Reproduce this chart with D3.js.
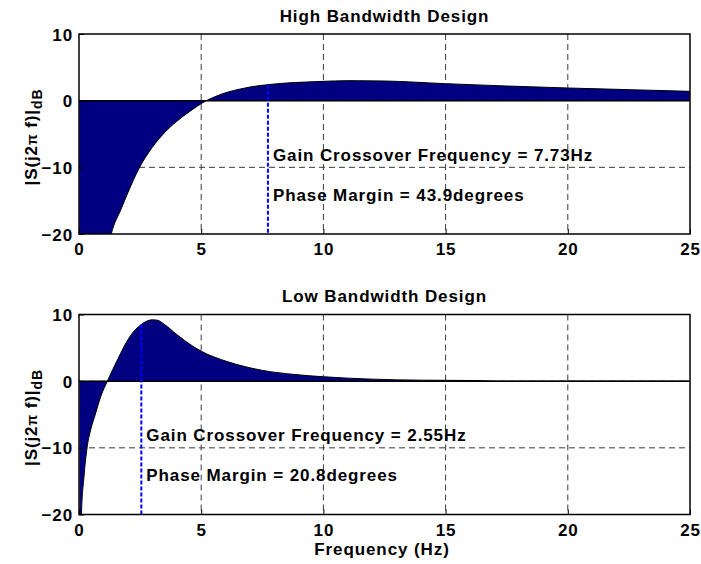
<!DOCTYPE html>
<html>
<head>
<meta charset="utf-8">
<script src="https://cdn.jsdelivr.net/npm/d3@7"></script>
<style>
  body { margin: 0; background: #fff; }
  text { font-family: "Liberation Sans", Arial, sans-serif; font-weight: bold; font-size: 17px; letter-spacing: 0.9px; fill: #000; }
</style>
</head>
<body>
<div class="canvas"></div>
<script>
// values (frequency in Hz, magnitude in dB)
const freqHigh = [0.01, 0.3, 0.6, 1.0, 1.32, 1.73, 2.0, 2.48, 3.0, 3.5, 4.0, 4.5, 5.21, 5.6, 6.1, 6.6, 7.0, 7.73, 8.5, 9.0, 10.0, 11.0, 12.5, 15.0, 17.5, 20.0, 22.5, 25.0];
const magHigh = [-80, -50, -38, -26, -20, -16.2, -13.8, -10, -7.0, -4.8, -3.1, -1.7, 0, 0.65, 1.3, 1.75, 2.05, 2.4, 2.65, 2.75, 2.9, 3.0, 2.95, 2.55, 2.2, 1.9, 1.65, 1.4];

const freqLow = [0.02, 0.1, 0.2, 0.33, 0.5, 0.64, 0.91, 1.16, 1.6, 2.0, 2.3, 2.55, 2.8, 3.0, 3.2, 3.5, 4.0, 4.32, 5.0, 6.1, 7.46, 8.83, 10.05, 11.0, 12.0, 14.0, 16.2, 17.0, 25.0];
const magLow = [-45, -20, -14.5, -10, -7.0, -5.3, -2.1, 0, 3.4, 6.2, 7.7, 8.5, 9.05, 9.2, 9.15, 8.5, 7.0, 6.1, 4.5, 2.9, 1.65, 1.0, 0.65, 0.45, 0.3, 0.15, 0.1, 0, 0];

const titles = ["High Bandwidth Design", "Low Bandwidth Design"];
const crossFreq = [7.73, 2.55];
const crossMag = [2.4, 8.5];
const phaseMargin = [43.9, 20.8];
const xTicks = [0, 5, 10, 15, 20, 25];
const yTicks = [-20, -10, 0, 10];

const W = 701, H = 564;
const left = 79, right = 690;
const tops = [34, 314.5];
const ph = 200;

const svg = d3.select(".canvas").append("svg").attr("width", W).attr("height", H);
svg.append("rect").attr("width", W).attr("height", H).attr("fill", "#fff");

const x = d3.scaleLinear([0, 25], [left, right]);

const panel = (i, freq, mag) => {
  const top = tops[i];
  const y = d3.scaleLinear([-20, 10], [top + ph, top]);
  const g = svg.append("g");
  const pts = freq.map((f, j) => [f, mag[j]]);

  g.append("clipPath").attr("id", "clip" + i)
    .append("rect").attr("x", left).attr("y", top).attr("width", right - left).attr("height", ph);

  // grid
  g.selectAll(".gx").data(xTicks.slice(1, -1)).join("line")
    .attr("x1", d => x(d)).attr("x2", d => x(d)).attr("y1", top).attr("y2", top + ph)
    .attr("stroke", "#3a3a3a").attr("stroke-dasharray", "6,4");
  g.selectAll(".gy").data(yTicks.slice(1, -1)).join("line")
    .attr("x1", left).attr("x2", right).attr("y1", d => y(d)).attr("y2", d => y(d))
    .attr("stroke", "#3a3a3a").attr("stroke-dasharray", "6,4");

  const area = d3.area().x(d => x(d[0])).y0(y(0)).y1(d => y(d[1])).curve(d3.curveMonotoneX);
  const line = d3.line().x(d => x(d[0])).y(d => y(d[1])).curve(d3.curveMonotoneX);
  const data = g.append("g").attr("clip-path", `url(#clip${i})`);
  data.append("path").datum(pts).attr("d", area).attr("fill", "#000080");
  data.append("path").datum(pts).attr("d", line).attr("fill", "none").attr("stroke", "#000").attr("stroke-width", 1);
  data.append("line").attr("x1", left).attr("x2", right).attr("y1", y(0)).attr("y2", y(0))
    .attr("stroke", "#000").attr("stroke-width", 1.5);

  // crossover marker
  g.append("line")
    .attr("x1", x(crossFreq[i])).attr("x2", x(crossFreq[i]))
    .attr("y1", y(crossMag[i])).attr("y2", top + ph)
    .attr("stroke", "#0000ff").attr("stroke-width", 2).attr("stroke-dasharray", "4,2");

  g.append("text").attr("x", x(crossFreq[i]) + 5).attr("y", y(-9))
    .text(`Gain Crossover Frequency = ${crossFreq[i]}Hz`);
  g.append("text").attr("x", x(crossFreq[i]) + 5).attr("y", y(-15))
    .text(`Phase Margin = ${phaseMargin[i]}degrees`);

  // axes
  const xAxis = d3.axisBottom(x).tickValues(xTicks).tickSize(-5).tickPadding(9);
  const yAxis = d3.axisLeft(y).tickValues(yTicks).tickSize(-5).tickPadding(6);
  const gx = g.append("g").attr("transform", `translate(0,${top + ph})`).call(xAxis);
  const gy = g.append("g").attr("transform", `translate(${left},0)`).call(yAxis);
  [gx, gy].forEach(a => {
    a.select(".domain").remove();
    a.selectAll("line").attr("stroke", "#000");
    a.selectAll("text").attr("font-size", null).attr("font-family", null).style("font-size", "17px");
  });
  gy.selectAll("text").attr("dy", "0.36em");

  g.append("rect").attr("x", left).attr("y", top).attr("width", right - left).attr("height", ph)
    .attr("fill", "none").attr("stroke", "#000").attr("stroke-width", 1.5);

  g.append("text").attr("x", (left + right) / 2).attr("y", top - 12.5)
    .attr("text-anchor", "middle").text(titles[i]);

  const yl = g.append("text").attr("text-anchor", "middle")
    .attr("transform", `translate(37,${top + ph / 2 + 3}) rotate(-90)`);
  yl.append("tspan").text("|S(j2");
  yl.append("tspan").text("π").style("font-size", "14px");
  yl.append("tspan").text(" f)|");
  yl.append("tspan").text("dB").attr("dy", 5).style("font-size", "14px");
};

panel(0, freqHigh, magHigh);
panel(1, freqLow, magLow);

svg.append("text").attr("x", 382).attr("y", 555).attr("text-anchor", "middle").text("Frequency (Hz)");
</script>
</body>
</html>
